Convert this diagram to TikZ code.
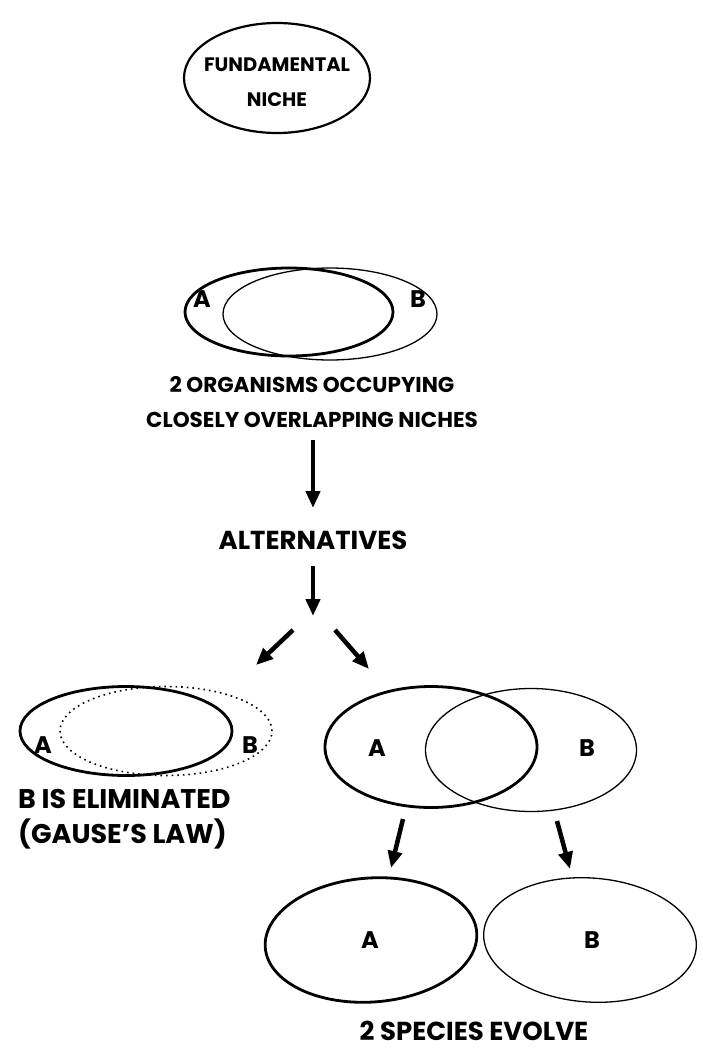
\documentclass[tikz,border=0pt]{standalone}
\usepackage{fontspec}
\setmainfont{Poppins}
\usetikzlibrary{shapes.geometric,arrows.meta}
\begin{document}
\begin{tikzpicture}[x=1pt,y=-1pt,
 thickell/.style={draw, ellipse, line width=2.8pt, inner sep=0pt},
 thinell/.style={draw, ellipse, line width=1.3pt, inner sep=0pt},
 medell/.style={draw, ellipse, line width=2.2pt, inner sep=0pt},
 dotell/.style={draw, ellipse, line width=1.6pt, dash pattern=on 1.6pt off 4pt, inner sep=0pt},
 lbl/.style={font=\bfseries\fontsize{24}{24}\selectfont, inner sep=0pt},
 txt/.style={font=\bfseries\fontsize{21.5}{35}\selectfont, align=center, inner sep=0pt},
 bigtxt/.style={font=\bfseries\fontsize{26}{35}\selectfont, align=center, inner sep=0pt},
 bigarrow/.style={line width=4.5pt, -{Triangle[length=17pt,width=14pt]}}]
\useasboundingbox (0,0) rectangle (702,1049);
% top
\node[medell, minimum width=186pt, minimum height=110pt] (fund) at (277,78) {};
\node[font=\bfseries\fontsize{19.5}{35}\selectfont, align=center, inner sep=0pt] (fundtxt) at (277,82) {FUNDAMENTAL\\NICHE};
% overlapping pair
\node[thickell, minimum width=208pt, minimum height=88pt] (a1) at (289,312) {};
\node[thinell, minimum width=214pt, minimum height=92pt] (b1) at (330,314) {};
\node[lbl] (la1) at (202,299) {A};
\node[lbl] (lb1) at (418,299) {B};
\node[txt] (org) at (312,402) {2 ORGANISMS OCCUPYING\\CLOSELY OVERLAPPING NICHES};
\coordinate (ar1s) at (313,440);
\coordinate (ar1e) at (313,508);
\draw[bigarrow] (ar1s) -- (ar1e);
\node[bigtxt] (alt) at (313,540) {ALTERNATIVES};
\coordinate (ar2s) at (313,566);
\coordinate (ar2e) at (313,616);
\draw[bigarrow] (ar2s) -- (ar2e);
\coordinate (ar3s) at (293,630);
\coordinate (ar3e) at (256,665);
\draw[bigarrow] (ar3s) -- (ar3e);
\coordinate (ar4s) at (335,630);
\coordinate (ar4e) at (369,669);
\draw[bigarrow] (ar4s) -- (ar4e);
% left pair
\node[thickell, minimum width=212pt, minimum height=89pt] (a2) at (126,731) {};
\node[dotell, minimum width=212pt, minimum height=89pt] (b2) at (166,731) {};
\node[lbl] (la2) at (43,745) {A};
\node[lbl] (lb2) at (250,745) {B};
\node[bigtxt, font=\bfseries\fontsize{27}{35}\selectfont, align=left, anchor=north west] (elim) at (18,789) {B IS ELIMINATED\\(GAUSE'S LAW)};
% right pair
\node[thickell, minimum width=212pt, minimum height=121pt] (a3) at (431,747) {};
\node[thinell, minimum width=211pt, minimum height=123pt] (b3) at (531,750) {};
\node[lbl] (la3) at (377,748) {A};
\node[lbl] (lb3) at (587,748) {B};
\coordinate (ar5s) at (403,819);
\coordinate (ar5e) at (391,868);
\draw[bigarrow] (ar5s) -- (ar5e);
\coordinate (ar6s) at (557,821);
\coordinate (ar6e) at (570,869);
\draw[bigarrow] (ar6s) -- (ar6e);
% bottom
\node[thickell, minimum width=212pt, minimum height=124pt, rotate=4] (a4) at (371,940) {};
\node[thinell, minimum width=213pt, minimum height=124pt, rotate=-4] (b4) at (590,940) {};
\node[lbl] (la4) at (370,940) {A};
\node[lbl] (lb4) at (592,940) {B};
\node[bigtxt] (spec) at (474,1031) {2 SPECIES EVOLVE};
\end{tikzpicture}
\end{document}
